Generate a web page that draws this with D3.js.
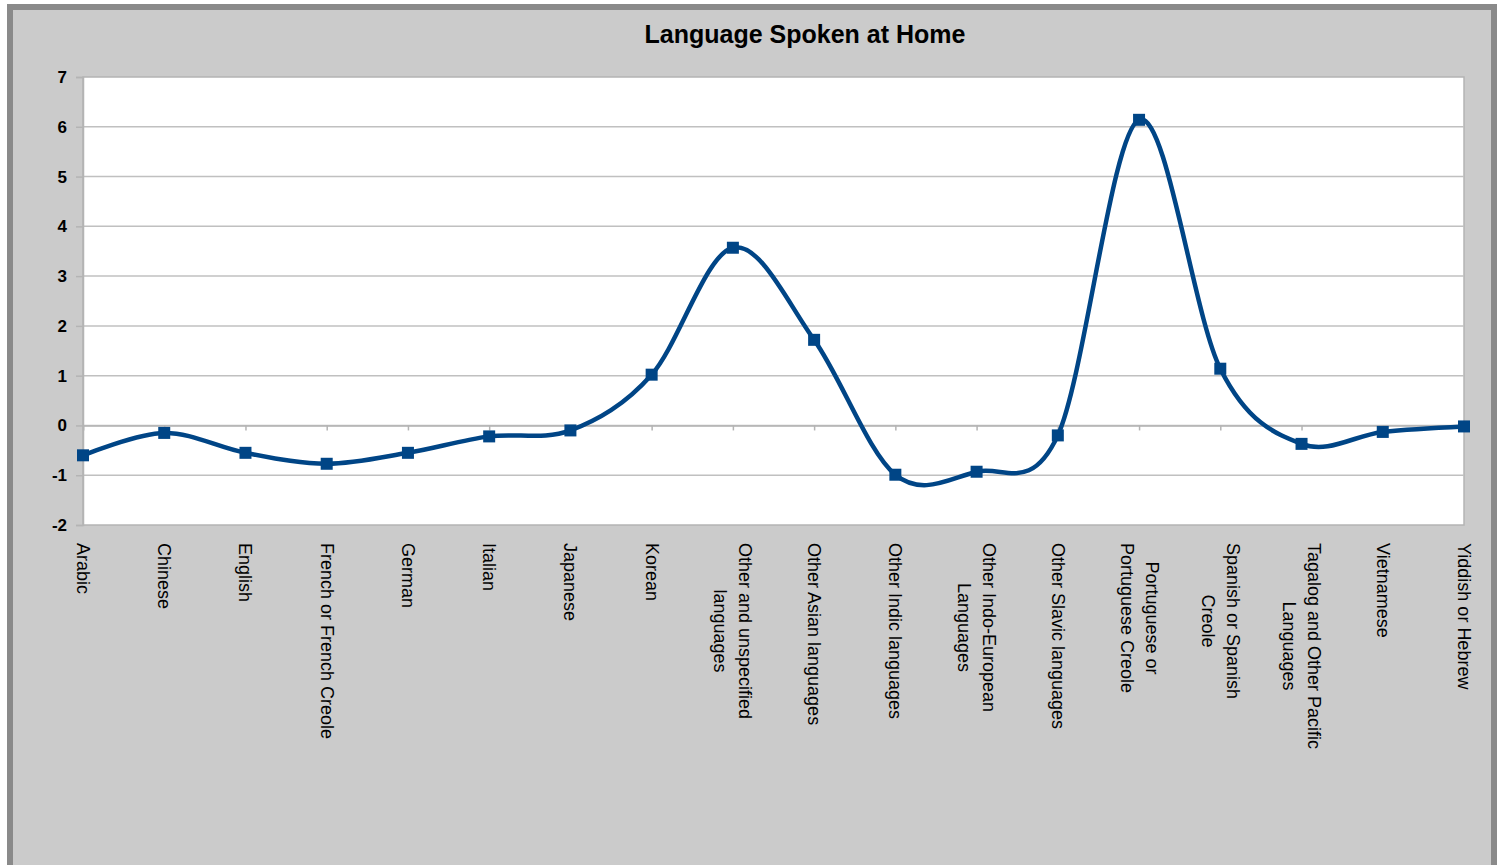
<!DOCTYPE html>
<html><head><meta charset="utf-8">
<script src="https://cdn.jsdelivr.net/npm/d3@7"></script>
<style>html,body{margin:0;padding:0;background:#fff;}svg{display:block;}</style>
</head><body>
<svg id="chart" width="1501" height="865"></svg>
<script>
const categories = [
  ["Arabic"], ["Chinese"], ["English"], ["French or French Creole"], ["German"], ["Italian"],
  ["Japanese"], ["Korean"], ["Other and unspecified", "languages"], ["Other Asian languages"],
  ["Other Indic languages"], ["Other Indo-European", "Languages"], ["Other Slavic languages"],
  ["Portuguese or", "Portuguese Creole"], ["Spanish or Spanish", "Creole"],
  ["Tagalog and Other Pacific", "Languages"], ["Vietnamese"], ["Yiddish or Hebrew"]
];
const values = [-0.6, -0.15, -0.55, -0.77, -0.55, -0.22, -0.1, 1.02, 3.57, 1.72, -0.99, -0.93, -0.2, 6.14, 1.14, -0.37, -0.13, -0.02];
const yTicks = [-2, -1, 0, 1, 2, 3, 4, 5, 6, 7];
const title = "Language Spoken at Home";

const svg = d3.select("#chart");
const font = "'Liberation Sans', Arial, sans-serif";
const lineColor = "#004586";

// frame
svg.append("rect").attr("x", 10).attr("y", 7).attr("width", 1484).attr("height", 861)
  .attr("fill", "#cbcbcb").attr("stroke", "#8a8a8a").attr("stroke-width", 6);

const L = 83, R = 1464, T = 77, B = 525;
const x = d3.scalePoint().domain(d3.range(categories.length)).range([L, R]);
const y = d3.scaleLinear().domain([-2, 7]).range([B, T]);

svg.append("rect").attr("x", L).attr("y", T).attr("width", R - L).attr("height", B - T)
  .attr("fill", "#fff").attr("stroke", "#b4b4b4").attr("stroke-width", 1.5);

// gridlines
svg.append("g").selectAll("line").data(yTicks.filter(d => d > -2 && d < 7)).join("line")
  .attr("x1", L).attr("x2", R).attr("y1", d => y(d)).attr("y2", d => y(d))
  .attr("stroke", "#c0c0c0").attr("stroke-width", 1.5);

// y axis
const yAxis = d3.axisLeft(y).tickValues(yTicks).tickSize(7).tickPadding(9).tickFormat(d => String(d));
const ga = svg.append("g").attr("transform", `translate(${L},0)`).call(yAxis);
ga.select(".domain").attr("stroke", "#b4b4b4").attr("stroke-width", 1.5);
ga.selectAll(".tick line").attr("stroke", "#b4b4b4").attr("stroke-width", 1.5);
ga.selectAll(".tick text").attr("font-family", font).attr("font-weight", "bold")
  .attr("font-size", 17).attr("fill", "#000");

// x axis ticks at zero line
const xAxis = d3.axisBottom(x).tickSize(5).tickFormat("");
const gx = svg.append("g").attr("transform", `translate(0,${y(0)})`).call(xAxis);
gx.select(".domain").attr("stroke", "#b4b4b4").attr("stroke-width", 1.5);
gx.selectAll(".tick line").attr("stroke", "#b4b4b4").attr("stroke-width", 1.5);

// x labels (rotated, multi-line centered)
const lab = svg.append("g");
categories.forEach((lines, i) => {
  const g = lab.append("g");
  const texts = lines.map(t => g.append("text").attr("font-family", font).attr("font-size", 18)
    .attr("fill", "#000").attr("text-anchor", "middle").attr("dominant-baseline", "central").text(t));
  const maxLen = d3.max(texts, t => t.node().getComputedTextLength());
  const lh = 25;
  const n = lines.length;
  texts.forEach((t, k) => {
    const cx = x(i) + ((n - 1) / 2 - k) * lh;
    const cy = 543 + maxLen / 2;
    t.attr("transform", `translate(${cx},${cy}) rotate(90)`);
  });
});

// line
const line = d3.line().x((d, i) => x(i)).y(d => y(d)).curve(d3.curveCardinal.tension(0));
svg.append("path").datum(values).attr("d", line).attr("fill", "none")
  .attr("stroke", lineColor).attr("stroke-width", 4.5);

svg.append("g").selectAll("rect").data(values).join("rect")
  .attr("x", (d, i) => x(i) - 6).attr("y", d => y(d) - 6).attr("width", 12).attr("height", 12)
  .attr("fill", lineColor);

svg.append("text").attr("x", 805).attr("y", 43).attr("text-anchor", "middle")
  .attr("font-family", font).attr("font-weight", "bold").attr("font-size", 25).attr("fill", "#000").text(title);
</script>
</body></html>
